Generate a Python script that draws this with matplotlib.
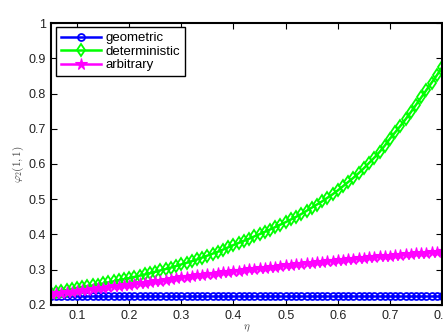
import matplotlib
matplotlib.use("Agg")
import matplotlib.pyplot as plt

plt.rcParams["font.family"] = ["Liberation Sans", "DejaVu Sans"]
plt.rcParams["mathtext.fontset"] = "cm"

# eta grid, 0.05 .. 0.80 in steps of 0.01
eta = [0.05, 0.06, 0.07, 0.08, 0.09, 0.10, 0.11, 0.12, 0.13, 0.14, 0.15,
       0.16, 0.17, 0.18, 0.19, 0.20, 0.21, 0.22, 0.23, 0.24, 0.25, 0.26,
       0.27, 0.28, 0.29, 0.30, 0.31, 0.32, 0.33, 0.34, 0.35, 0.36, 0.37,
       0.38, 0.39, 0.40, 0.41, 0.42, 0.43, 0.44, 0.45, 0.46, 0.47, 0.48,
       0.49, 0.50, 0.51, 0.52, 0.53, 0.54, 0.55, 0.56, 0.57, 0.58, 0.59,
       0.60, 0.61, 0.62, 0.63, 0.64, 0.65, 0.66, 0.67, 0.68, 0.69, 0.70,
       0.71, 0.72, 0.73, 0.74, 0.75, 0.76, 0.77, 0.78, 0.79, 0.80]

geometric = [0.224, 0.224, 0.224, 0.224, 0.224, 0.224, 0.224, 0.224, 0.224,
             0.224, 0.224, 0.224, 0.224, 0.224, 0.224, 0.224, 0.224, 0.224,
             0.224, 0.224, 0.224, 0.224, 0.224, 0.224, 0.224, 0.224, 0.224,
             0.224, 0.224, 0.224, 0.224, 0.224, 0.224, 0.224, 0.224, 0.224,
             0.224, 0.224, 0.224, 0.224, 0.224, 0.224, 0.224, 0.224, 0.224,
             0.224, 0.224, 0.224, 0.224, 0.224, 0.224, 0.224, 0.224, 0.224,
             0.224, 0.224, 0.224, 0.224, 0.224, 0.224, 0.224, 0.224, 0.224,
             0.224, 0.224, 0.224, 0.224, 0.224, 0.224, 0.224, 0.224, 0.224,
             0.224, 0.224, 0.224, 0.224]

deterministic = [0.235, 0.2375, 0.240, 0.2425, 0.245, 0.248,
                 0.2505, 0.253, 0.2555, 0.258, 0.261,
                 0.264, 0.267, 0.270, 0.273, 0.276,
                 0.2795, 0.283, 0.2865, 0.290, 0.294,
                 0.298, 0.302, 0.306, 0.3105, 0.315,
                 0.3195, 0.324, 0.329, 0.3345, 0.340,
                 0.3455, 0.351, 0.357, 0.3635, 0.370,
                 0.376, 0.382, 0.388, 0.3945, 0.401,
                 0.4075, 0.414, 0.421, 0.428, 0.435,
                 0.4425, 0.450, 0.458, 0.467, 0.476,
                 0.485, 0.494, 0.504, 0.514, 0.525,
                 0.537, 0.549, 0.561, 0.574, 0.588,
                 0.603, 0.618, 0.634, 0.652, 0.672,
                 0.690, 0.708, 0.727, 0.747, 0.768,
                 0.789, 0.810, 0.831, 0.852, 0.874]

arbitrary = [0.232, 0.2335, 0.235, 0.2365, 0.238, 0.240,
             0.2418, 0.2436, 0.2454, 0.2472, 0.249,
             0.2508, 0.2526, 0.2544, 0.2562, 0.258,
             0.2598, 0.2616, 0.2634, 0.2652, 0.267,
             0.269, 0.271, 0.2735, 0.2757, 0.278,
             0.280, 0.2818, 0.2836, 0.2854, 0.287,
             0.2888, 0.2906, 0.2924, 0.2942, 0.296,
             0.2976, 0.2992, 0.3008, 0.3024, 0.304,
             0.3056, 0.3072, 0.3088, 0.3104, 0.312,
             0.3135, 0.315, 0.3165, 0.318, 0.3195,
             0.321, 0.3225, 0.324, 0.3255, 0.327,
             0.3284, 0.3298, 0.3312, 0.3326, 0.334,
             0.3352, 0.3364, 0.3376, 0.3388, 0.340,
             0.3412, 0.3424, 0.3436, 0.3448, 0.346,
             0.3472, 0.3484, 0.3496, 0.3508, 0.352]

xticks = [0.1, 0.2, 0.3, 0.4, 0.5, 0.6, 0.7, 0.8]
yticks = [0.2, 0.3, 0.4, 0.5, 0.6, 0.7, 0.8, 0.9, 1.0]

fig = plt.figure(figsize=(4.43, 3.34), dpi=100)
ax = fig.add_axes([0.115, 0.087, 0.883, 0.844])

ax.plot(eta, geometric, color="blue", linewidth=1.8, marker="o",
        markersize=5, markerfacecolor="none", markeredgewidth=1.3,
        label="geometric")
ax.plot(eta, deterministic, color="#00ff00", linewidth=1.8, marker="d",
        markersize=6.5, markerfacecolor="none", markeredgewidth=1.3,
        label="deterministic")
ax.plot(eta, arbitrary, color="magenta", linewidth=1.8, marker="*",
        markersize=8.5, markeredgewidth=0.8,
        label="arbitrary")

ax.set_xlim(0.05, 0.8)
ax.set_ylim(0.2, 1.0)
ax.set_xticks(xticks)
ax.set_yticks(yticks)
ax.set_xticklabels(["0.1", "0.2", "0.3", "0.4", "0.5", "0.6", "0.7", "0.8"])
ax.set_yticklabels(["0.2", "0.3", "0.4", "0.5", "0.6", "0.7", "0.8", "0.9", "1"])
ax.tick_params(direction="in", top=True, right=True, labelsize=9,
               length=4, width=0.8, colors="black", labelcolor="#222222")
for s in ax.spines.values():
    s.set_linewidth(1.5)

ax.set_xlabel(r"$\eta$", fontsize=8, color="#444444", labelpad=1)
ax.set_ylabel(r"$\varphi_2(1,1)$", fontsize=8, color="#444444", labelpad=2)

leg = ax.legend(loc="upper left", fontsize=9.5, handlelength=3.0,
                bbox_to_anchor=(0.014, 0.985), borderaxespad=0.0,
                fancybox=False, edgecolor="black", framealpha=1,
                labelspacing=0.1, borderpad=0.35, handletextpad=0.4)
leg.get_frame().set_linewidth(1.0)

fig.savefig("out.png", dpi=100)
